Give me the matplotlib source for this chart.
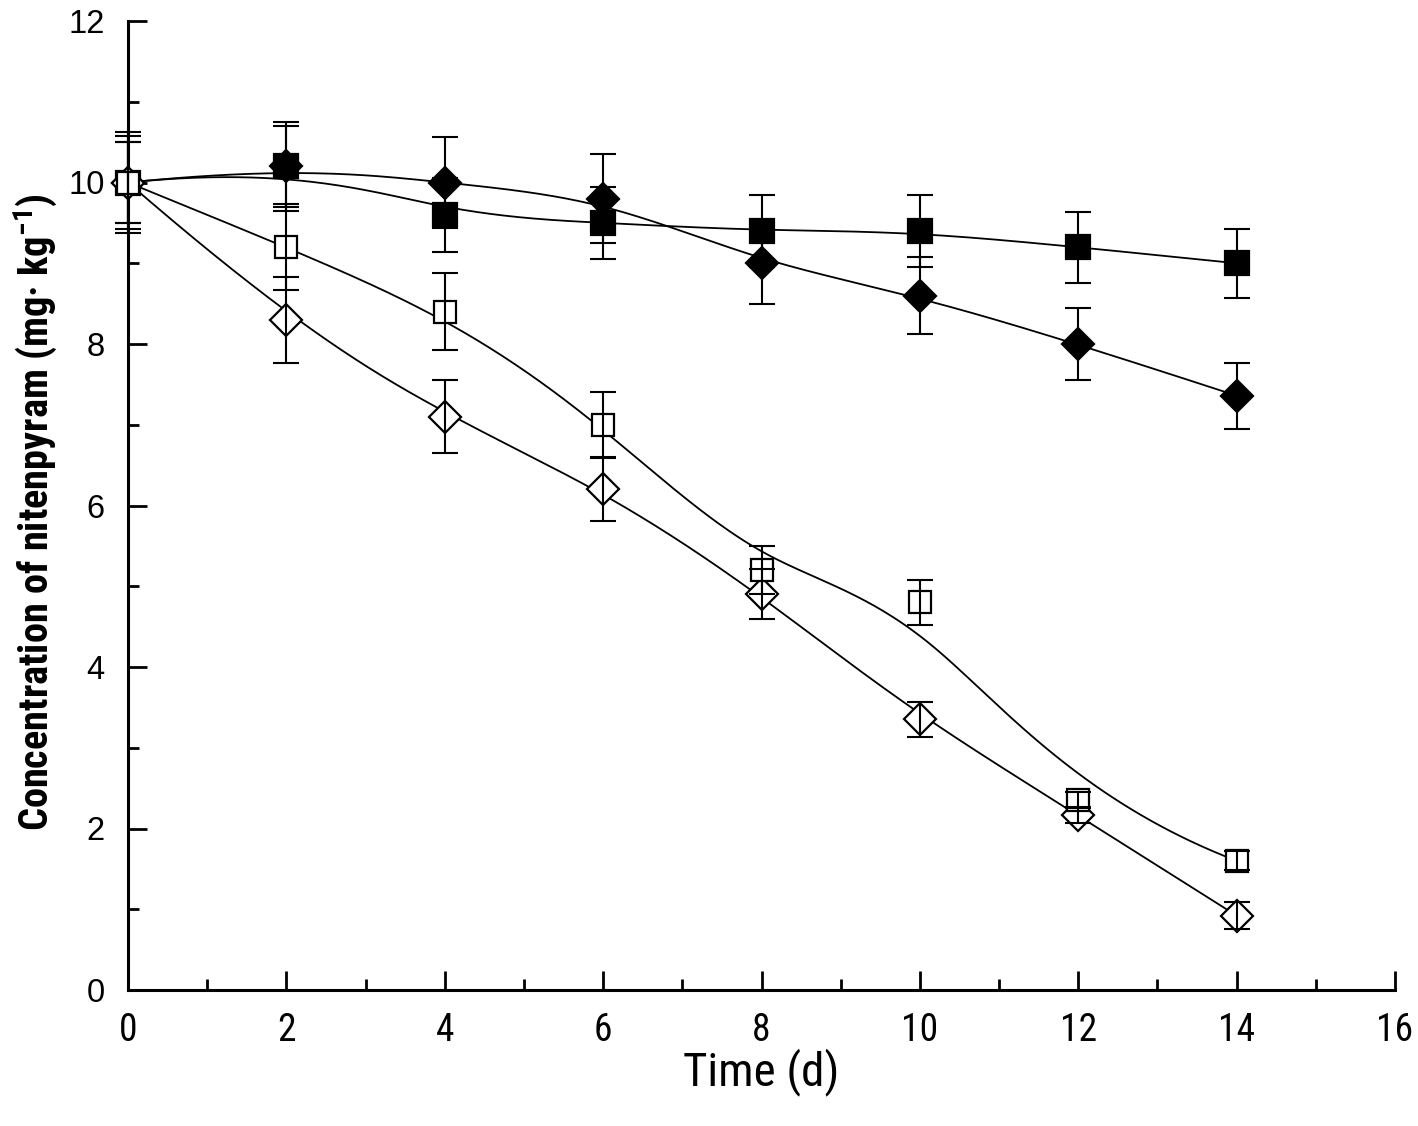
import numpy as np
import matplotlib
matplotlib.use("Agg")
import matplotlib.pyplot as plt
from matplotlib import font_manager as fm

names = {f.name for f in fm.fontManager.ttflist}
narrow = next((n for n in ['Roboto Condensed', 'Archivo Narrow', 'PT Sans Narrow', 'Liberation Sans']
               if n in names), 'DejaVu Sans')
wide = 'Liberation Sans' if 'Liberation Sans' in names else 'DejaVu Sans'

# ---- data ----
days = [0, 2, 4, 6, 8, 10, 12, 14]
filled_square = [10.0, 10.2, 9.6, 9.5, 9.4, 9.4, 9.2, 9.0]
filled_square_err = [0.5, 0.55, 0.46, 0.45, 0.45, 0.45, 0.44, 0.43]
filled_diamond = [10.0, 10.2, 10.0, 9.8, 9.0, 8.6, 8.0, 7.36]
filled_diamond_err = [0.63, 0.5, 0.56, 0.55, 0.5, 0.48, 0.45, 0.41]
open_square = [10.0, 9.2, 8.4, 7.0, 5.2, 4.8, 2.35, 1.6]
open_square_err = [0.5, 0.53, 0.48, 0.4, 0.3, 0.28, 0.1, 0.12]
open_diamond = [10.0, 8.3, 7.1, 6.2, 4.9, 3.35, 2.17, 0.92]
open_diamond_err = [0.57, 0.53, 0.45, 0.39, 0.31, 0.215, 0.1, 0.17]

x_ticks = [0, 2, 4, 6, 8, 10, 12, 14, 16]
y_ticks = [0, 2, 4, 6, 8, 10, 12]
x_label = 'Time (d)'
y_label = 'Concentration of nitenpyram (mg\u00b7 kg$^{\\mathbf{-1}}$)'


def bspline(xs, ys, n=400):
    """Clamped uniform cubic B-spline using the points as control points."""
    P = np.column_stack([xs, ys]).astype(float)
    m = len(P)
    k = 3
    inner = np.arange(1, m - k)
    t = np.concatenate([np.zeros(k + 1), inner, np.full(k + 1, m - k)]).astype(float)
    us = np.linspace(0, m - k, n)
    out = []
    for u in us:
        if u >= t[-1]:
            out.append(P[-1])
            continue
        j = np.searchsorted(t, u, side='right') - 1
        d = [P[j - k + i].copy() for i in range(k + 1)]
        for r in range(1, k + 1):
            for i in range(k, r - 1, -1):
                idx = j - k + i
                a = (u - t[idx]) / (t[idx + k + 1 - r] - t[idx])
                d[i] = (1 - a) * d[i - 1] + a * d[i]
        out.append(d[k])
    out = np.array(out)
    return out[:, 0], out[:, 1]


plt.rcParams['mathtext.fontset'] = 'custom'
plt.rcParams['mathtext.rm'] = narrow
plt.rcParams['mathtext.bf'] = narrow + ':bold'

fig = plt.figure(figsize=(14.18, 11.26), dpi=100)
ax = fig.add_axes([128 / 1418, 1 - 990 / 1126, (1395 - 128) / 1418, (990 - 21) / 1126])

series = [
    (filled_diamond, filled_diamond_err, 'D', 'black', 16.5),
    (filled_square, filled_square_err, 's', 'black', 17),
    (open_diamond, open_diamond_err, 'D', 'white', 16),
    (open_square, open_square_err, 's', 'white', 16.5),
]

for ys, _, _, _, _ in series:
    cx, cy = bspline(days, ys)
    ax.plot(cx, cy, color='black', lw=1.3, zorder=2, clip_on=False)

z = 3
for ys, es, mk, fc, ms in series:
    ax.plot(days, ys, linestyle='none', marker=mk, ms=ms, mfc=fc, mec='black',
            mew=1.6, zorder=z, clip_on=False)
    z += 1
for ys, es, mk, fc, ms in series:
    eb = ax.errorbar(days, ys, yerr=es, fmt='none', ecolor='black', elinewidth=1.5,
                     capsize=9.5, capthick=1.5, zorder=10)
    for art in eb.lines[1]:
        art.set_clip_on(False)
    for col in eb.lines[2]:
        col.set_clip_on(False)

ax.set_xlim(0, 16)
ax.set_ylim(0, 12)
ax.spines['top'].set_visible(False)
ax.spines['right'].set_visible(False)
ax.spines['left'].set_linewidth(2.2)
ax.spines['bottom'].set_linewidth(2.2)

ax.set_xticks(x_ticks)
ax.set_yticks(y_ticks)
ax.set_xticks(np.arange(1, 16, 2), minor=True)
ax.set_yticks(np.arange(1, 12, 2), minor=True)
ax.tick_params(which='major', direction='in', length=14, width=2)
ax.tick_params(which='minor', direction='in', length=8, width=2)
ax.tick_params(axis='x', which='major', pad=16, labelsize=27, labelfontfamily=narrow)
ax.tick_params(axis='y', which='major', pad=17, labelsize=23.5, labelfontfamily=wide)

xl = ax.set_xlabel(x_label, fontfamily=narrow, fontsize=32)
yl = ax.set_ylabel(y_label, fontfamily=narrow, fontsize=22, fontweight='bold')

# fit the label lengths to the reference
fig.canvas.draw()
r = fig.canvas.get_renderer()
w = xl.get_window_extent(r).width
xl.set_fontsize(32 * 157 / w)
h = yl.get_window_extent(r).height
yl.set_fontsize(22 * 637 / h)

ax.xaxis.set_label_coords(0.5, (990 - 1072) / 969)
xl.set_va('center')
ax.yaxis.set_label_coords((35 - 128) / 1267, (990 - 512) / 969)
yl.set_va('center')

fig.savefig('out.png', dpi=100)
